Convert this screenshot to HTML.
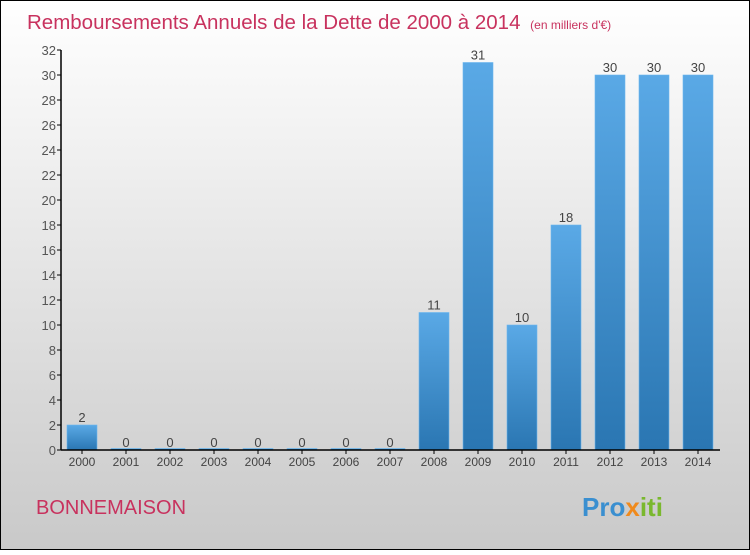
<!DOCTYPE html>
<html><head><meta charset="utf-8"><style>
body{margin:0;width:750px;height:550px;overflow:hidden;font-family:"Liberation Sans",sans-serif}
</style></head><body>
<svg width="750" height="550">
<defs>
<linearGradient id="bg" x1="0" y1="0" x2="0" y2="1"><stop offset="0" stop-color="#ffffff"/><stop offset="1" stop-color="#c9c9c9"/></linearGradient>
<linearGradient id="bar" x1="0" y1="0" x2="0" y2="1"><stop offset="0" stop-color="#5aa9e6"/><stop offset="1" stop-color="#2a76b2"/></linearGradient>
</defs>
<rect x="0.5" y="0.5" width="749" height="549" fill="url(#bg)" stroke="#000"/>
<text x="27" y="29" font-size="20.5" fill="#c8325e">Remboursements Annuels de la Dette de 2000 à 2014 <tspan font-size="12" dx="4">(en milliers d'€)</tspan></text>
<text x="36" y="514" font-size="20" fill="#c8325e">BONNEMAISON</text>
<text x="582" y="516" font-size="26" font-weight="bold"><tspan fill="#3a8fd0">Pro</tspan><tspan fill="#f08a1c">x</tspan><tspan fill="#7ab82e">iti</tspan></text>
<g id="plot"></g>
</svg>
<script>
const categories=["2000","2001","2002","2003","2004","2005","2006","2007","2008","2009","2010","2011","2012","2013","2014"];
const values=[2,0,0,0,0,0,0,0,11,31,10,18,30,30,30];
const yTicks=[0,2,4,6,8,10,12,14,16,18,20,22,24,26,28,30,32];
const ns="http://www.w3.org/2000/svg";
const g=document.getElementById('plot');
const x0=61,x1=720,yBase=450,yTop=50,yMax=32,step=44,bw=30,bOff=6;
const y=v=>yBase-(v/yMax)*(yBase-yTop);
const xb=i=>x0+bOff+i*step;
function mk(t,a){const e=document.createElementNS(ns,t);for(const k in a)e.setAttribute(k,a[k]);g.appendChild(e);return e;}
let e;
yTicks.forEach(t=>{
 e=mk('line',{x1:x0-4,x2:x0,y1:y(t),y2:y(t),stroke:'#000'});
 
 
 e=mk('text',{x:x0-5,y:y(t)+5,'text-anchor':'end','font-size':13,fill:'#555'});e.textContent=t;
 
 
});
values.forEach((v,i)=>{
 const h=Math.max(yBase-y(v),1.5);
 e=mk('rect',{x:xb(i),y:yBase-h,width:bw,height:h,fill:'url(#bar)',stroke:'#6bb6ee','stroke-width':0.6});
 
 
 e=mk('text',{x:xb(i)+bw/2,y:y(v)-3,'text-anchor':'middle','font-size':13,fill:'#444'});e.textContent=v;
 
 
 e=mk('line',{x1:xb(i)+bw/2,x2:xb(i)+bw/2,y1:yBase,y2:yBase+4,stroke:'#000'});
 
 
 e=mk('text',{x:xb(i)+bw/2,y:yBase+16,'text-anchor':'middle','font-size':12,fill:'#444'});e.textContent=categories[i];
 
 
});
e=mk('line',{x1:x0,x2:x0,y1:yTop,y2:yBase,stroke:'#000','stroke-width':1.5});


e=mk('line',{x1:x0,x2:x1,y1:yBase,y2:yBase,stroke:'#000','stroke-width':1.5});


</script>
</body></html>
